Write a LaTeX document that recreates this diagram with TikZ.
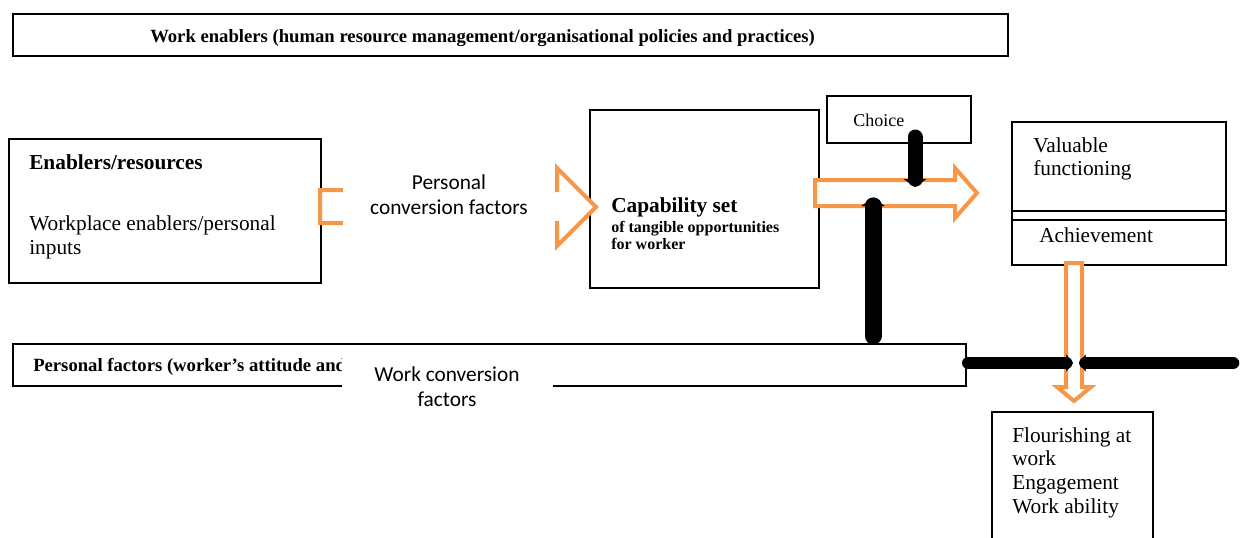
\documentclass[tikz,border=0pt]{standalone}
\usepackage{fontspec}
\setmainfont{Liberation Serif}
\newfontfamily\calibrifont{Carlito}
\usetikzlibrary{arrows.meta}
\definecolor{accentorange}{RGB}{247,150,70}

% rectangle node from its top-left and bottom-right corners (in px units)
\newcommand\pxbox[5]{%
  \node[box, minimum width={(#4-(#2))*0.75pt}, minimum height={(#5-(#3))*0.75pt}] (#1) at (#2,#3) {};}

\begin{document}
\begin{tikzpicture}[x=0.75pt,y=-0.75pt,
  box/.style={draw, line width=1.2pt, inner sep=0pt, outer sep=0pt, anchor=north west},
  hollow/.style={draw=accentorange, line width=3pt, fill=white, line join=miter},
  cover/.style={fill=white, inner sep=0pt, outer sep=0pt, anchor=north west},
  txt/.style={inner sep=0pt, anchor=base west},
  bigtxt/.style={txt, font=\fontsize{16}{18}\selectfont},
  headtxt/.style={txt, font=\fontsize{14}{16}\selectfont\bfseries},
  sanslbl/.style={inner sep=0pt, anchor=base, align=center, font=\calibrifont\fontsize{16}{18.75}\selectfont},
  blk/.style={line width=#1, line cap=round},
]
\useasboundingbox (0,0) rectangle (1240,537);
\clip (0,0) rectangle (1240,537);

% boxes
\pxbox{enablers}{13}{14}{1008}{56}
\pxbox{resources}{9}{139}{321}{283}
\pxbox{capability}{590}{110}{819}{288}
\pxbox{choice}{827}{96}{971}{143}
\pxbox{valuable}{1012}{122}{1226}{265}
\pxbox{flourish}{992}{412}{1153}{560}
\pxbox{personal}{13}{344}{966}{386}
\draw[line width=1.2pt] (valuable.west |- 0,211) -- (valuable.east |- 0,211);
\draw[line width=1.2pt] (valuable.west |- 0,220) -- (valuable.east |- 0,220);

% box texts
\node[headtxt] (enablerstxt) at (150,42) {Work enablers (human resource management/organisational policies and practices)};
\node[headtxt] (personaltxt) at (33,371) {Personal factors (worker’s attitude and};
\node[bigtxt, font=\fontsize{16}{18}\selectfont\bfseries] (restitle) at (29,169) {Enablers/resources};
\node[bigtxt] (res1) at (29,230) {Workplace enablers/personal};
\node[bigtxt] (res2) at (29,254) {inputs};
\node[bigtxt, font=\fontsize{16}{18}\selectfont\bfseries] (captitle) at (611,212) {Capability set};
\node[txt, font=\fontsize{12}{14}\selectfont\bfseries] (cap1) at (611,232) {of tangible opportunities};
\node[txt, font=\fontsize{12}{14}\selectfont\bfseries] (cap2) at (611,249) {for worker};
\node[txt, font=\fontsize{13.5}{16}\selectfont] (choicetxt) at (853,126) {Choice};
\node[bigtxt] (val1) at (1033,152) {Valuable};
\node[bigtxt] (val2) at (1033,175) {functioning};
\node[bigtxt] (achieve) at (1039,242) {Achievement};
\node[bigtxt] (fl1) at (1012,442) {Flourishing at};
\node[bigtxt] (fl2) at (1012,465) {work};
\node[bigtxt] (fl3) at (1012,489) {Engagement};
\node[bigtxt] (fl4) at (1012,513) {Work ability};

% hollow orange arrows
\draw[hollow] (320,190) -- (557,190) -- (557,168) -- (596,207) -- (557,246) -- (557,223) -- (320,223) -- cycle;
\draw[hollow] (815,180) -- (955,180) -- (955,168) -- (977,193) -- (955,218) -- (955,206) -- (815,206) -- cycle;
\draw[hollow] (1066,263) -- (1082,263) -- (1082,387) -- (1091,387) -- (1074,401) -- (1057,387) -- (1066,387) -- cycle;

% conversion factor labels on white (anchored at the last line's baseline)
\node[cover, minimum width={212*0.75pt}, minimum height={90*0.75pt}] (pcfcover) at (343,162) {};
\node[sanslbl] (pcf) at (449,214) {Personal\\conversion factors};
\node[cover, minimum width={211*0.75pt}, minimum height={78*0.75pt}] (wcfcover) at (342,348) {};
\node[sanslbl] (wcf) at (447,406) {Work conversion\\factors};

% black influence arrows
\coordinate (choicefrom) at (915,137);
\coordinate (choiceto) at (915,187);
\draw[blk=11.25pt, -{Triangle[width=17pt,length=6pt,line width=0.4pt]}] (choicefrom) -- (choiceto);
\coordinate (upto) at (873,198);
\draw[blk=12.75pt, -{Triangle[width=17.5pt,length=6pt,line width=0.4pt]}] ([yshift=6pt]personal.north -| upto) -- (upto);
\coordinate (leftto) at (1073,363);
\draw[blk=9pt, -{Triangle[width=13pt,length=5pt,line width=0.4pt]}] ([xshift=1.5pt]personal.east |- leftto) -- (leftto);
\coordinate (rightfrom) at (1233,363);
\coordinate (rightto) at (1079,363);
\draw[blk=9.5pt, -{Triangle[width=13pt,length=5pt,line width=0.4pt]}] (rightfrom) -- (rightto);
\end{tikzpicture}
\end{document}
